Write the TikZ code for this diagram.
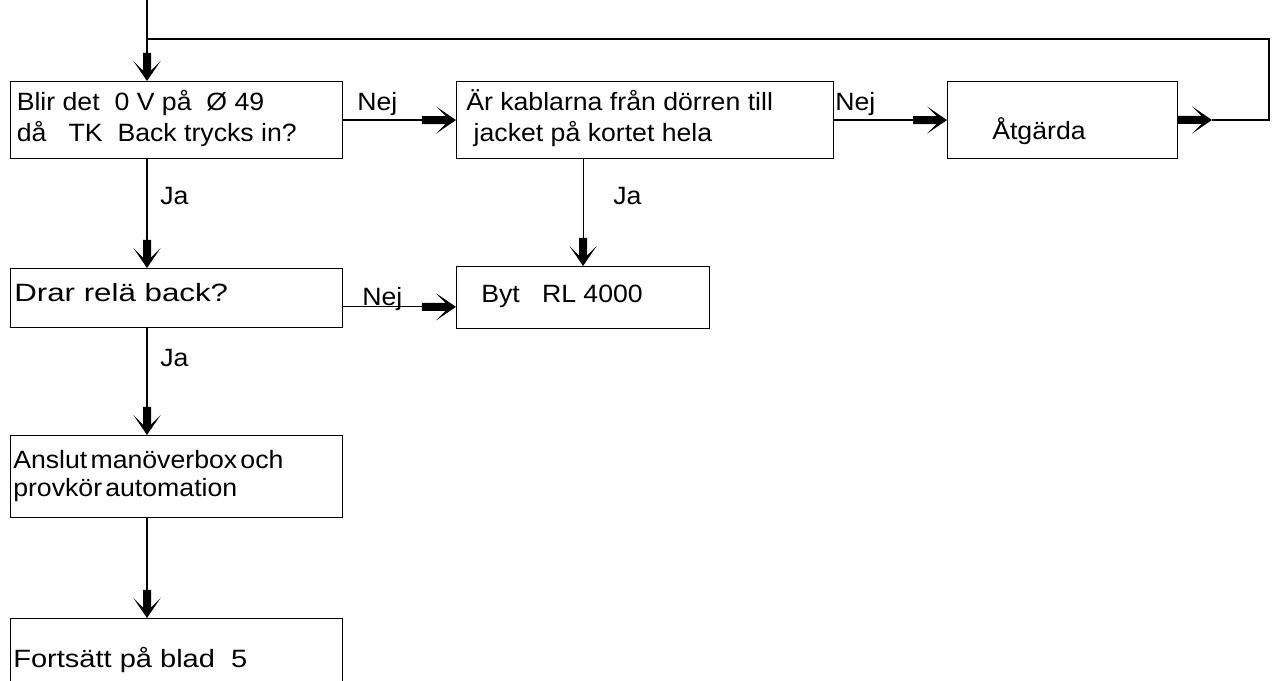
\documentclass[tikz,border=0pt]{standalone}
\usepackage{fontspec}
\setmainfont{Liberation Sans}[FakeStretch=1.065]
\newfontfamily\widefont{Liberation Sans}[FakeStretch=1.16]
\newfontfamily\widerfont{Liberation Sans}[FakeStretch=1.25]
\usetikzlibrary{arrows.meta, positioning}
\newcommand{\boxfont}{\fontsize{17.8}{22}\selectfont}
% heavy arrow: chevron head with a short thick shaft
\pgfdeclarearrow{
    name = Chunky,
    parameters = {\the\pgfarrowlength},
    setup code = {
        \pgfarrowssettipend{0pt}
        \pgfarrowssetlineend{-.6\pgfarrowlength}
        \pgfarrowssetbackend{-\pgfarrowlength}
        \pgfarrowssavethe\pgfarrowlength
    },
    drawing code = {
        \pgfpathmoveto{\pgfpointorigin}
        \pgfpathlineto{\pgfpoint{-5mm}{3.4mm}}
        \pgfpathlineto{\pgfpoint{-2.6mm}{1mm}}
        \pgfpathlineto{\pgfpoint{-\pgfarrowlength}{1mm}}
        \pgfpathlineto{\pgfpoint{-\pgfarrowlength}{-1mm}}
        \pgfpathlineto{\pgfpoint{-2.6mm}{-1mm}}
        \pgfpathlineto{\pgfpoint{-5mm}{-3.4mm}}
        \pgfpathclose
        \pgfusepathqfill
    },
    defaults = {length = 8.5mm}
}
\tikzset{
    box/.style={draw, line width=0.8pt, anchor=north west, inner sep=0pt},
    txt/.style={anchor=base west, inner sep=0pt, font=\boxfont},
    link/.style={line width=0.8pt},
    htip/.style={-{Chunky[length=8.5mm]}},
    vtip/.style={-{Chunky[length=7mm]}}
}

\begin{document}
\begin{tikzpicture}[x=0.025cm,y=-0.025cm]
    \useasboundingbox (0,0) rectangle (1274,681);
    \clip (0,0) rectangle (1274,681);
    % boxes
    \node[box, minimum width=332*0.025cm, minimum height=77*0.025cm] (q1) at (10,81) {};
    \node[box, minimum width=377*0.025cm, minimum height=77*0.025cm] (q2) at (456,81) {};
    \node[box, minimum width=230*0.025cm, minimum height=77*0.025cm] (fix) at (947,81) {};
    \node[box, minimum width=332*0.025cm, minimum height=59*0.025cm] (q3) at (10,268) {};
    \node[box, minimum width=253*0.025cm, minimum height=62*0.025cm] (swap) at (456,266) {};
    \node[box, minimum width=332*0.025cm, minimum height=82*0.025cm] (test) at (10,435) {};
    \node[box, minimum width=332*0.025cm, minimum height=90*0.025cm] (done) at (10,618) {};
    % texts
    \node[txt] (q1a) at (16.5,110.5) {Blir det\ \ 0 V på\ \ Ø 49};
    \node[txt] (q1b) at (16.5,141.5) {då\ \ \ TK\ \ Back trycks in?};
    \node[txt] (q2a) at (466,111) {Är kablarna från dörren till};
    \node[txt] (q2b) at (466,141.5) {\ jacket på kortet hela};
    \node[txt] (fixt) at (992,140) {Åtgärda};
    \node[txt] (q3t) at (14,302) {\widerfont Drar relä back?};
    \node[txt] (swapt) at (481,303) {Byt\ \ \ RL 4000};
    \node[txt] (testa) at (13,468) {Anslut\hspace{0.8mm}manöverbox\hspace{0.8mm}och};
    \node[txt] (testb) at (13,496) {provkör\hspace{0.8mm}automation};
    \node[txt] (donet) at (13,667) {\widefont Fortsätt på blad\ \ 5};
    % labels
    \node[txt] (nej1) at (357,111) {Nej};
    \node[txt] (nej2) at (835,111) {Nej};
    \node[txt] (nej3) at (362,306) {Nej};
    \node[txt] (ja1) at (160,205) {Ja};
    \node[txt] (ja2) at (613,205) {Ja};
    \node[txt] (ja3) at (160,367) {Ja};
    % connectors
    \coordinate (start) at (147,0);
    \coordinate (join) at (147,39);
    \coordinate (ret) at (1212,120);
    \coordinate (corner) at (1269,39);
    \coordinate (nejpt) at ([yshift=-2.2mm]q3.east);
    \draw[link, vtip] (start) -- (start |- q1.north);
    \draw[link, htip] (q1) -- (q2);
    \draw[link, htip] (q2) -- (fix);
    \draw[link, htip] (fix.east |- ret) -- (ret);
    \draw[link] (ret) -| (corner) -- (join);
    \draw[link, vtip] (q1.south -| start) -- (q3.north -| start);
    \draw[link, vtip] (q2.south -| swap.north) -- (swap.north);
    \draw[link, htip] (nejpt) -- (nejpt -| swap.west);
    \draw[link, vtip] (q3.south -| start) -- (test.north -| start);
    \draw[link, vtip] (test.south -| start) -- (done.north -| start);
\end{tikzpicture}
\end{document}
